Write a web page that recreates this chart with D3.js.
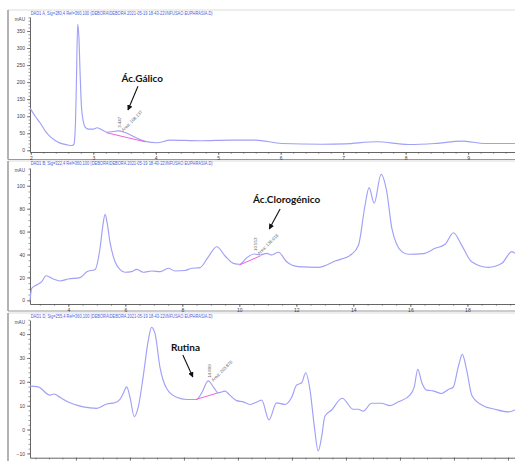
<!DOCTYPE html>
<html>
<head>
<meta charset="utf-8">
<script src="https://cdn.jsdelivr.net/npm/d3@7/dist/d3.min.js"></script>
<style>
  html, body { margin: 0; padding: 0; background: #fff; }
  svg { display: block; }
</style>
</head>
<body>
<svg id="chart" width="515" height="461"></svg>
<script>
// ---------- DAD1 A, 280 nm ----------
const sigATime = [1.99, 2.07, 2.15, 2.23, 2.31, 2.39, 2.47, 2.58, 2.66, 2.69, 2.715, 2.73, 2.75, 2.77, 2.79, 2.81, 2.84, 2.87,
  2.92, 3.00, 3.06, 3.12, 3.22, 3.32, 3.40, 3.51, 3.67, 3.83, 4.02, 4.23, 4.71, 5.19, 5.59, 6.02, 6.66, 7.03, 7.54, 8.04,
  8.47, 8.90, 9.27, 9.75];
const sigAAbs = [123, 100, 80, 57, 40, 29, 21, 16, 14, 18, 80, 200, 370, 330, 220, 130, 85, 68,
  62, 62, 66, 62, 53, 55, 57, 52, 38, 26, 22, 30, 28, 30, 30, 20, 17.6, 19, 25, 17,
  20, 27, 20, 20];
const sigATicks = [2, 3, 4, 5, 6, 7, 8, 9];
const sigAYTicks = [0, 50, 100, 150, 200, 250, 300, 350];

// ---------- DAD1 B, 322 nm ----------
const sigBTime = [2.656, 2.716, 2.891, 3.067, 3.218, 3.474, 3.709, 4.0, 4.41, 4.65, 4.94, 5.11, 5.21, 5.29, 5.36, 5.46,
  5.64, 5.81, 5.99, 6.22, 6.40, 6.63, 6.93, 7.22, 7.51, 7.74, 8.09, 8.33, 8.62, 8.91, 9.21, 9.50, 9.79, 10.02, 10.26,
  10.52, 10.73, 10.96, 11.14, 11.37, 11.66, 12.07, 12.77, 13.36, 13.94, 14.18, 14.41, 14.55, 14.73, 14.97, 15.17,
  15.35, 15.70, 15.93, 16.46, 16.87, 17.22, 17.51, 17.80, 18.15, 18.74, 19.21, 19.56, 19.67];
const sigBAbs = [0, 10.5, 13.4, 16.3, 21.5, 18.6, 16.9, 18.6, 19.8, 25, 27, 45, 65, 75, 68, 51,
  33.7, 27, 24.5, 25, 27, 24.5, 25.6, 25, 28, 25.6, 26, 28, 28.5, 38, 46.8, 38.7, 32.3, 31.5, 37.2,
  40.4, 39.6, 41, 39.6, 42, 33.7, 29.4, 28.8, 34.3, 40.2, 48.3, 83, 98.4, 84.7, 110, 95,
  62.9, 42.5, 40.2, 40.8, 45.4, 48.9, 59, 48, 33.7, 28.8, 32.3, 42.5, 41];
const sigBTicks = [4, 6, 8, 10, 12, 14, 16, 18];
const sigBYTicks = [0, 20, 40, 60, 80, 100];

// ---------- DAD1 D, 255 nm ----------
const sigDTime = [8.30, 8.60, 9.04, 9.20, 9.41, 9.78, 10.27, 10.77, 11.14, 11.44, 11.63, 11.75, 11.88, 12.00, 12.16,
  12.31, 12.49, 12.68, 12.80, 12.93, 13.11, 13.36, 13.73, 14.10, 14.47, 14.66, 14.90, 15.09, 15.27, 15.52, 15.70,
  15.95, 16.20, 16.44, 16.63, 16.88, 17.15, 17.43, 17.74, 17.99, 18.17, 18.36, 18.51, 18.67, 18.83, 18.97, 19.10,
  19.22, 19.47, 19.86, 20.27, 20.46, 20.64, 20.95, 21.32, 21.63, 21.94, 22.37, 22.53, 22.66, 22.81, 22.99, 23.23,
  23.54, 23.79, 23.97, 24.16, 24.31, 24.47, 24.66, 25.03, 25.52, 26.01, 26.26];
const sigDAbs = [18.2, 17.9, 14.4, 14.9, 13.5, 11.2, 9.5, 8.9, 10.7, 11.2, 12.6, 15.1, 17.9, 13.7, 5.4,
  9.5, 22.1, 37.4, 42.8, 40.2, 26.3, 17.2, 13.5, 12.6, 12.6, 15.4, 20.4, 17.9, 15.4, 16.1, 14.4,
  12.1, 11.6, 10.5, 11.2, 12.3, 4.0, 11.2, 10.5, 13.5, 18.6, 19.6, 23.8, 16.5, 1.2, -9, -3,
  5.6, 8.2, 13.1, 8.5, 8.5, 7.7, 11, 11, 10, 11.6, 14.4, 17.9, 25.2, 19.6, 16.5, 16.2,
  15.1, 16.8, 17.7, 26.3, 31.5, 24.9, 14.4, 10.3, 8.5, 7.4, 8.2];
const sigDTicks = [10, 12, 14, 16, 18, 20, 22, 24, 26];
const sigDYTicks = [-10, 0, 10, 20, 30, 40];

// Integration baselines [t0, v0, t1, v1]
const baseGallic = [3.21, 51.6, 3.83, 25];
const baseChloro = [10.0, 30.8, 10.73, 38.7];
const baseRutin = [14.44, 12.6, 15.27, 15.4];

// Peak apex [time, abs] and integration labels
const peakGallic = [3.40, 57], rtGallic = "3.447", areaGallic = "Area: 108.137";
const peakChloro = [10.52, 40.4], rtChloro = "10.553", areaChloro = "Area: 136.016";
const peakRutin = [14.90, 20.4], rtRutin = "14.899", areaRutin = "Area: 203.876";

const headers = [
  "DAD1 A, Sig=280,4 Ref=360,100 (DEBORA\\DEBORA 2021-05-19 18-43-22\\INFUSAO EUPHRASIA.D)",
  "DAD1 B, Sig=322,4 Ref=360,100 (DEBORA\\DEBORA 2021-05-19 18-43-22\\INFUSAO EUPHRASIA.D)",
  "DAD1 D, Sig=255,4 Ref=360,100 (DEBORA\\DEBORA 2021-05-19 18-43-22\\INFUSAO EUPHRASIA.D)"
];

const panels = [
  { time: sigATime, abs: sigAAbs, xTicks: sigATicks, xMinor: 0.2, yTicks: sigAYTicks, yMinor: 10,
    xDomain: [1.987, 9.75], yDomain: [-5, 391], top: 10, bottom: 159.5, plotTop: 17, axisY: 152,
    headerY: 15, showXLabels: true, base: baseGallic, peak: peakGallic, rt: rtGallic, area: areaGallic,
    name: "Ác.Gálico", nameAt: [3.45, 200], arrow: [[3.715, 188], [3.555, 118]] },
  { time: sigBTime, abs: sigBAbs, xTicks: sigBTicks, xMinor: 0.5, yTicks: sigBYTicks, yMinor: 5,
    xDomain: [2.656, 19.67], yDomain: [-3.2, 115.5], top: 161, bottom: 311, plotTop: 168, axisY: 304,
    headerY: 165, showXLabels: true, base: baseChloro, peak: peakChloro, rt: rtChloro, area: areaChloro,
    name: "Ác.Clorogénico", nameAt: [10.48, 85], arrow: [[11.43, 79.7], [11.05, 62.3]] },
  { time: sigDTime, abs: sigDAbs, xTicks: sigDTicks, xMinor: 0.5, yTicks: sigDYTicks, yMinor: 2,
    xDomain: [8.30, 26.26], yDomain: [-11.8, 45.9], top: 313, bottom: 470, plotTop: 320, axisY: 457.7,
    headerY: 318, showXLabels: false, base: baseRutin, peak: peakRutin, rt: rtRutin, area: areaRutin,
    name: "Rutina", nameAt: [13.52, 33.1], arrow: [[13.96, 31.2], [14.33, 22]] }
];

const svg = d3.select("#chart");
const X0 = 30, X1 = 515;
const traceColor = "#a0a0f7";
const baseColor = "#f060dc";
const axisColor = "#555";
const tickText = "#444";

svg.append("defs").append("marker")
  .attr("id", "arrowhead")
  .attr("viewBox", "0 0 10 10")
  .attr("refX", 9).attr("refY", 5)
  .attr("markerWidth", 5).attr("markerHeight", 5)
  .attr("orient", "auto")
  .append("path").attr("d", "M0,0 L10,5 L0,10 Z").attr("fill", "#111");

function range(a, b, step) {
  const out = [];
  const n = Math.round((b - a) / step);
  for (let i = 0; i <= n; i++) out.push(+(a + i * step).toFixed(4));
  return out;
}

panels.forEach((p, i) => {
  const g = svg.append("g");

  // panel frame
  g.append("line").attr("x1", 8).attr("x2", 515).attr("y1", p.top).attr("y2", p.top)
    .attr("stroke", "#dcdcdc").attr("stroke-width", 1);
  g.append("line").attr("x1", 8).attr("x2", 8).attr("y1", p.top).attr("y2", p.bottom)
    .attr("stroke", "#8a8a8a").attr("stroke-width", 1.3);
  g.append("line").attr("x1", 8).attr("x2", 515).attr("y1", p.bottom).attr("y2", p.bottom)
    .attr("stroke", "#9a9a9a").attr("stroke-width", 1.2);

  const x = d3.scaleLinear().domain(p.xDomain).range([X0, X1]);
  const y = d3.scaleLinear().domain(p.yDomain).range([p.axisY, p.plotTop]);

  // header
  g.append("text").attr("x", 30.7).attr("y", p.headerY)
    .attr("font-family", "Liberation Sans, Arial, sans-serif").attr("font-size", 5.2)
    .attr("fill", "#4a60dc").attr("textLength", 182).attr("lengthAdjust", "spacingAndGlyphs")
    .text(headers[i]);

  // y axis: minor then major
  const yMinorVals = range(Math.ceil(p.yDomain[0] / p.yMinor) * p.yMinor, p.yDomain[1], p.yMinor);
  g.append("g").attr("transform", `translate(${X0},0)`)
    .call(d3.axisLeft(y).tickValues(yMinorVals).tickSize(1.5).tickFormat(""))
    .call(a => a.select(".domain").remove())
    .selectAll("line").attr("stroke", axisColor).attr("stroke-width", 0.6);
  const yAx = g.append("g").attr("transform", `translate(${X0},0)`)
    .call(d3.axisLeft(y).tickValues(p.yTicks).tickSize(3).tickPadding(2).tickSizeOuter(0));
  yAx.select(".domain").attr("stroke", axisColor).attr("stroke-width", 0.9);
  yAx.selectAll(".tick line").attr("stroke", axisColor).attr("stroke-width", 0.7);
  yAx.selectAll("text").attr("font-size", 5).attr("fill", tickText)
    .attr("font-family", "Liberation Sans, Arial, sans-serif");

  g.append("text").attr("x", 25).attr("y", p.plotTop + 4).attr("text-anchor", "end")
    .attr("font-size", 4.6).attr("fill", tickText)
    .attr("font-family", "Liberation Sans, Arial, sans-serif").text("mAU");

  // x axis: minor then major
  const xMinorVals = range(Math.ceil(p.xDomain[0] / p.xMinor) * p.xMinor, p.xDomain[1], p.xMinor);
  g.append("g").attr("transform", `translate(0,${p.axisY})`)
    .call(d3.axisBottom(x).tickValues(xMinorVals).tickSize(1.8).tickFormat(""))
    .call(a => a.select(".domain").remove())
    .selectAll("line").attr("stroke", axisColor).attr("stroke-width", 0.6);
  const xAx = g.append("g").attr("transform", `translate(0,${p.axisY})`)
    .call(d3.axisBottom(x).tickValues(p.xTicks).tickSize(3).tickPadding(1).tickSizeOuter(0)
      .tickFormat(p.showXLabels ? d3.format("d") : ""));
  xAx.select(".domain").attr("stroke", axisColor).attr("stroke-width", 0.9);
  xAx.selectAll(".tick line").attr("stroke", axisColor).attr("stroke-width", 0.7);
  xAx.selectAll("text").attr("font-size", 5).attr("fill", tickText)
    .attr("font-family", "Liberation Sans, Arial, sans-serif");

  // trace
  const pts = p.time.map((t, k) => [t, p.abs[k]]);
  const line = d3.line().x(d => x(d[0])).y(d => y(d[1])).curve(d3.curveMonotoneX);
  g.append("path").datum(pts).attr("d", line)
    .attr("fill", "none").attr("stroke", traceColor).attr("stroke-width", 1.15)
    .attr("stroke-linejoin", "round");

  // integration baseline
  g.append("line")
    .attr("x1", x(p.base[0])).attr("y1", y(p.base[1]))
    .attr("x2", x(p.base[2])).attr("y2", y(p.base[3]))
    .attr("stroke", baseColor).attr("stroke-width", 1);

  // retention time and area labels
  const px = x(p.peak[0]), py = y(p.peak[1]);
  g.append("text").attr("transform", `translate(${px + 3},${py - 3}) rotate(-90)`)
    .attr("font-size", 4.4).attr("fill", "#666")
    .attr("font-family", "Liberation Sans, Arial, sans-serif").text(p.rt);
  g.append("text").attr("transform", `translate(${px + 5},${py + 1}) rotate(-45)`)
    .attr("font-size", 4.4).attr("fill", "#666")
    .attr("font-family", "Liberation Sans, Arial, sans-serif").text(p.area);

  // compound annotation
  g.append("text").attr("x", x(p.nameAt[0])).attr("y", y(p.nameAt[1]))
    .attr("font-family", "Lato, 'Open Sans', sans-serif").attr("font-weight", "bold")
    .attr("font-size", 10).attr("fill", "#111").text(p.name);
  g.append("line")
    .attr("x1", x(p.arrow[0][0])).attr("y1", y(p.arrow[0][1]))
    .attr("x2", x(p.arrow[1][0])).attr("y2", y(p.arrow[1][1]))
    .attr("stroke", "#111").attr("stroke-width", 1.1)
    .attr("marker-end", "url(#arrowhead)");
});
</script>
</body>
</html>
